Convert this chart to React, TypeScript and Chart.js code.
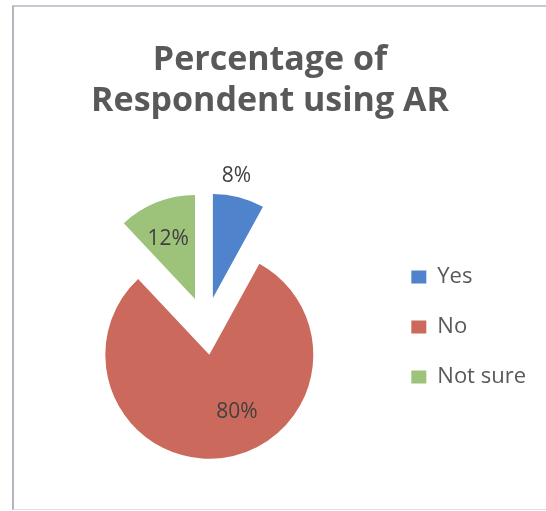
import React, { useEffect, useRef } from "react";
import { Chart, registerables } from "chart.js";

Chart.register(...registerables);

const categories = ["Yes", "No", "Not sure"];
const values = [8, 80, 12];
const sliceColors = ["#4f83cc", "#cb6a5c", "#9dc27a"];
const titleLines = ["Percentage of", "Respondent using AR"];

// label placement: fraction along slice arc, fraction of radius
const labelAngleFrac = [0.38, 0.435, 0.44];
const labelRadiusFrac = [1.19, 0.61, 0.63];

const explodeFix = {
  id: "explodeFix",
  afterDatasetsUpdate(chart: any) {
    const meta = chart.getDatasetMeta(0);
    meta.data.forEach((el: any) => {
      const o = ((el.options && el.options.offset) || 0) / 4;
      const circ = el.circumference;
      const fix = 1 - Math.sin(Math.min(Math.PI, circ));
      const ro = o * fix;
      const R = el.outerRadius;
      el.$orig = { start: el.startAngle, end: el.endAngle, R, o };
      el.outerRadius = R - ro;
      const a = ro / (2 * Math.PI * R);
      el.startAngle -= a;
      el.endAngle += a;
    });
  },
};

const sliceLabels = {
  id: "sliceLabels",
  afterDatasetsDraw(chart: any) {
    const meta = chart.getDatasetMeta(0);
    const ctx = chart.ctx;
    ctx.save();
    ctx.font = '21px "Open Sans"';
    ctx.fillStyle = "#404040";
    ctx.textAlign = "center";
    ctx.textBaseline = "middle";
    meta.data.forEach((el: any, i: number) => {
      const { start, end, R, o } = el.$orig;
      const half = (start + end) / 2;
      const tx = Math.cos(half) * o;
      const ty = Math.sin(half) * o;
      const ang = start + labelAngleFrac[i] * (end - start);
      const r = labelRadiusFrac[i] * R;
      ctx.fillText(
        `${values[i]}%`,
        el.x + tx + Math.cos(ang) * r,
        el.y + ty + Math.sin(ang) * r
      );
    });
    ctx.restore();
  },
};

export default function App() {
  const ref = useRef<HTMLCanvasElement>(null);
  useEffect(() => {
    if (!ref.current) return;
    const baseGen = (Chart as any).overrides.pie.plugins.legend.labels.generateLabels;
    const chart = new Chart(ref.current, {
      type: "pie",
      data: {
        labels: categories,
        datasets: [
          {
            data: values,
            backgroundColor: sliceColors,
            borderWidth: 0,
            offset: 116,
            radius: 104,
            clip: false,
          } as any,
        ],
      },
      options: {
        animation: false,
        responsive: false,
        events: [],
        layout: { padding: { left: 4, right: 10, top: 0, bottom: 0 } },
        plugins: {
          tooltip: { enabled: false },
          title: {
            display: true,
            text: titleLines,
            color: "#595959",
            font: { family: "Open Sans", size: 34, weight: "bold", lineHeight: "41px" },
            padding: { top: 40, bottom: 19 },
          },
          legend: {
            position: "right",
            fullSize: false,
            title: {
              display: true,
              text: "",
              padding: 0,
              font: { size: 10, lineHeight: "26px" },
            },
            labels: {
              boxWidth: 15,
              boxHeight: 13,
              padding: 4,
              color: "#595959",
              font: { family: "Open Sans", size: 22, lineHeight: "46px" },
              generateLabels: (c: any) =>
                baseGen(c).map((l: any) => ({ ...l, text: [l.text] })),
            },
          },
        },
      } as any,
      plugins: [explodeFix, sliceLabels],
    });
    return () => chart.destroy();
  }, []);

  return (
    <div
      style={{
        position: "absolute",
        left: 0,
        top: 0,
        width: 546,
        height: 511,
        overflow: "hidden",
        background: "#fff",
      }}
    >
      <div
        style={{
          position: "absolute",
          left: 12,
          top: 5,
          width: 540,
          height: 505,
          borderLeft: "2px solid #b4b4bc",
          borderTop: "2px solid #c8c8d4",
          borderBottom: "1px solid #dde0e4",
          boxSizing: "border-box",
        }}
      />
      <canvas
        ref={ref}
        width={546}
        height={511}
        style={{ position: "absolute", left: 0, top: 0, width: 546, height: 511 }}
      />
    </div>
  );
}
